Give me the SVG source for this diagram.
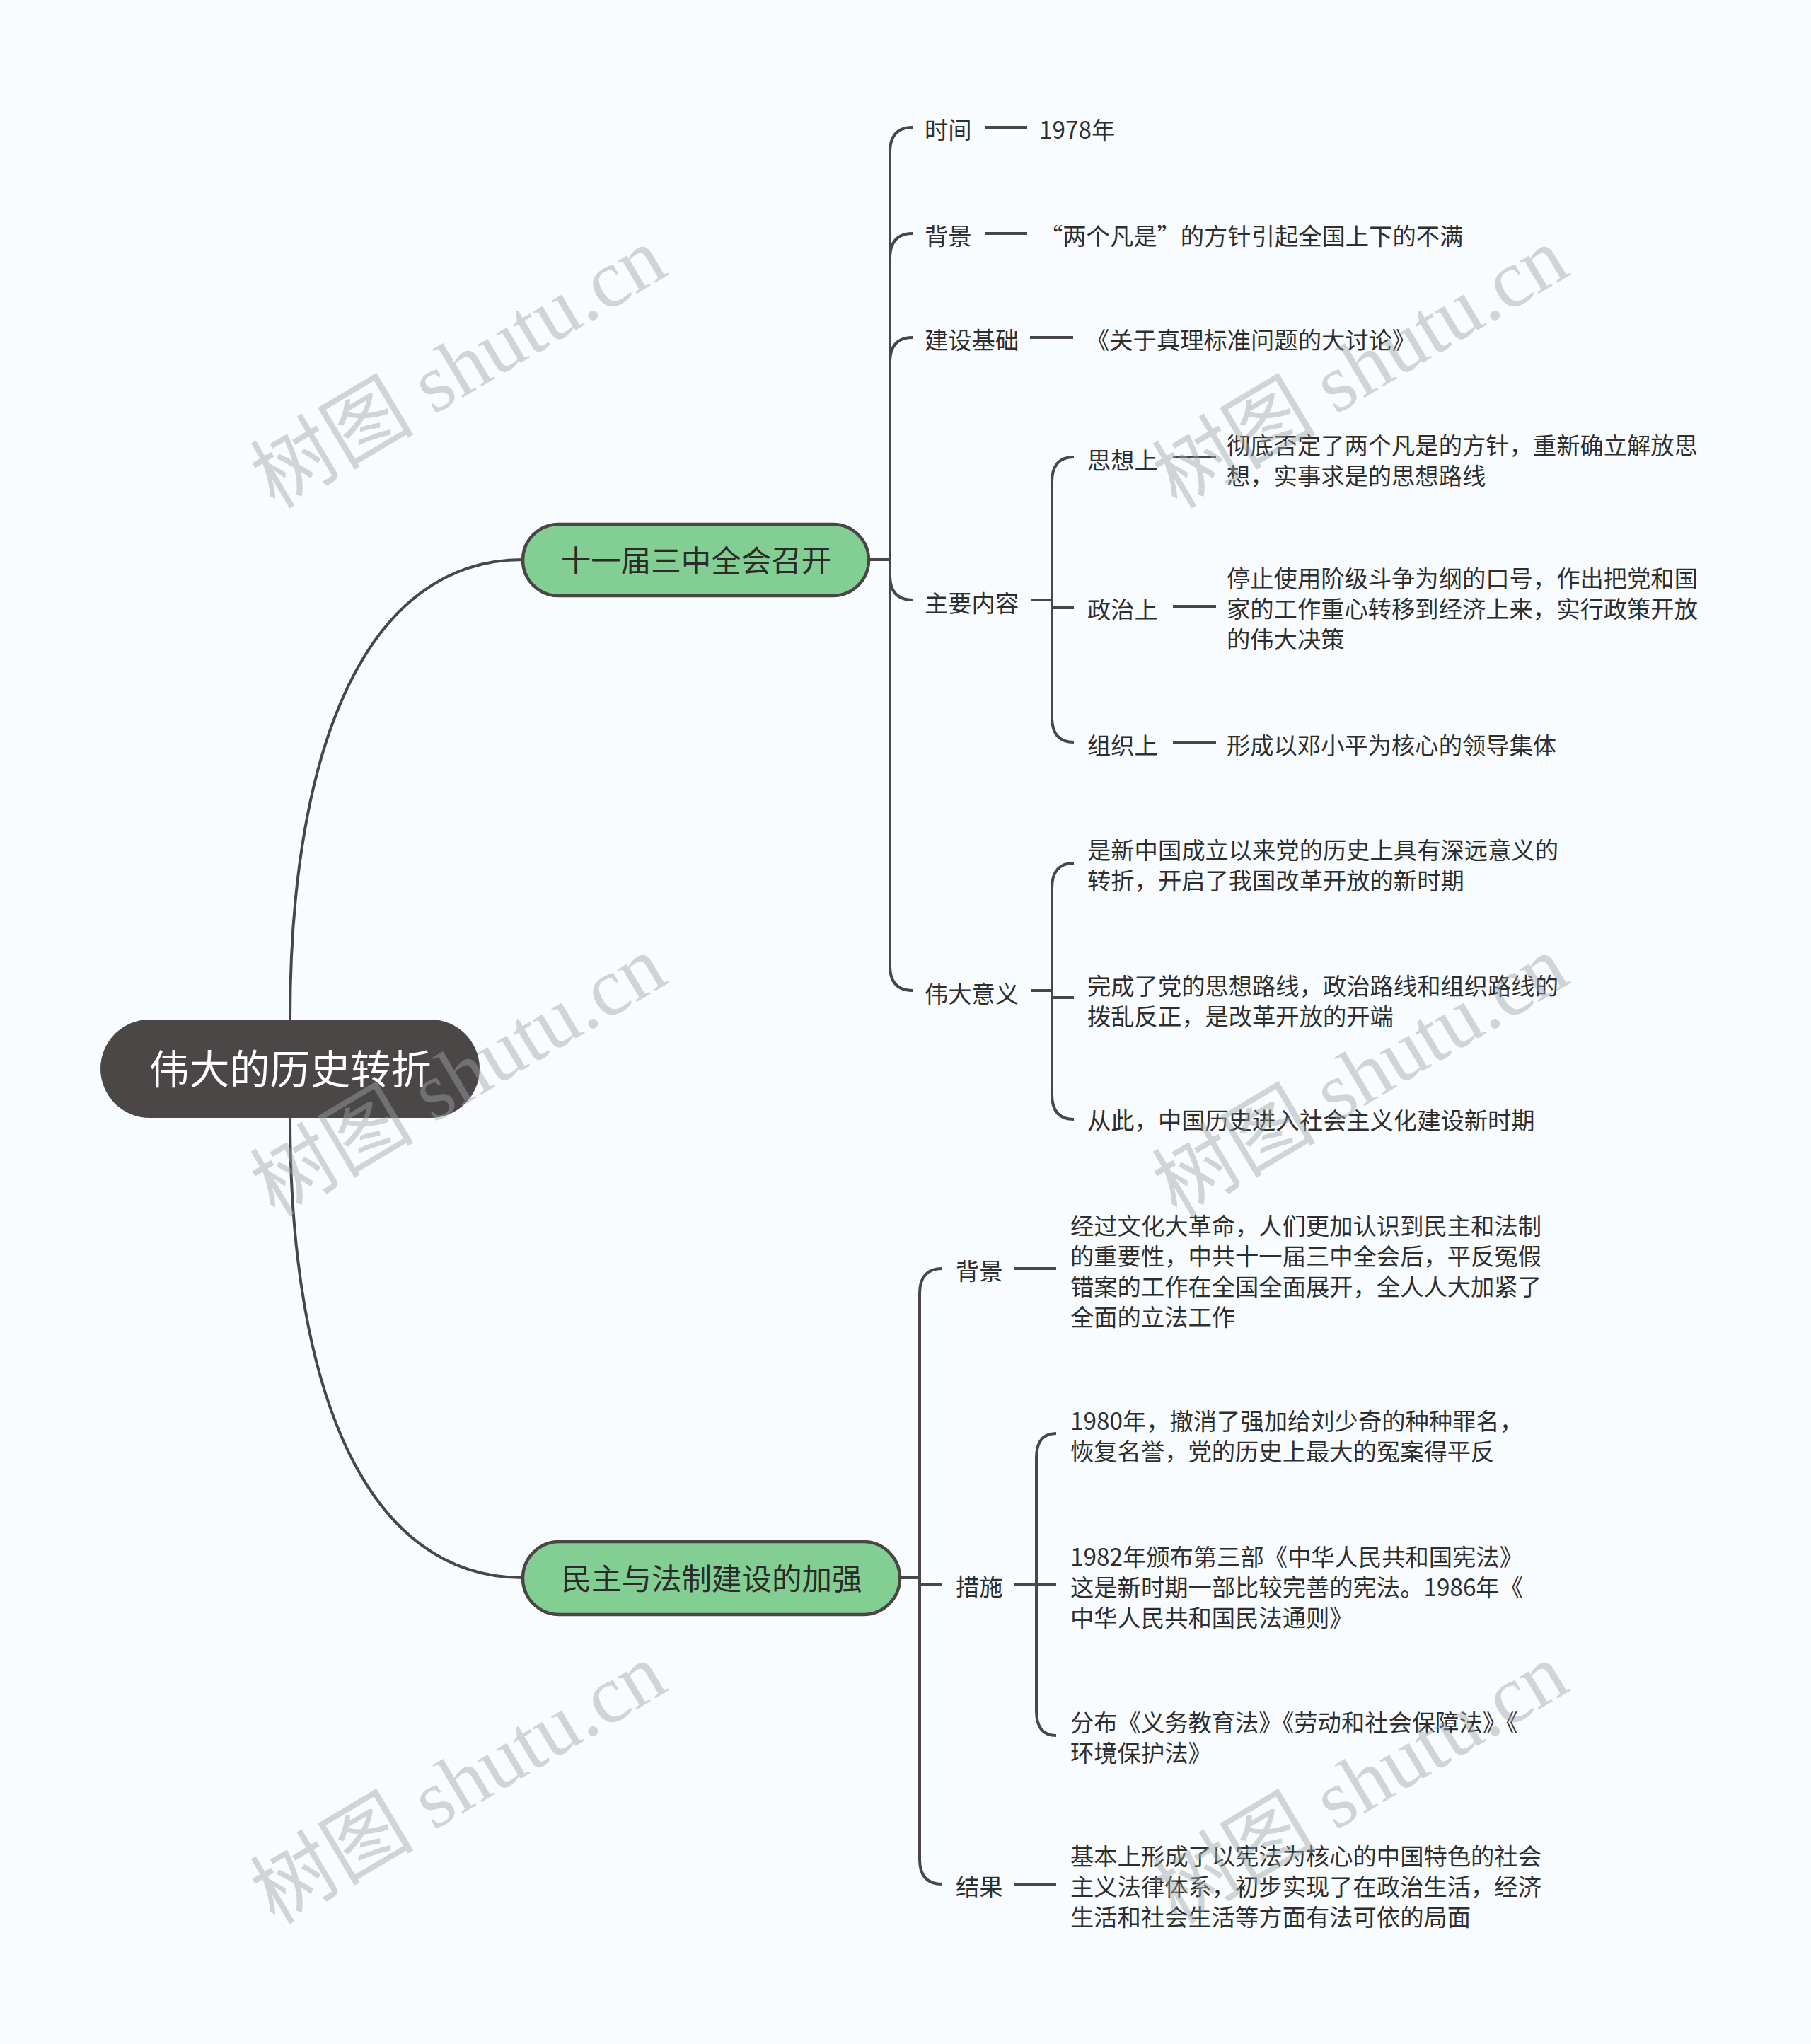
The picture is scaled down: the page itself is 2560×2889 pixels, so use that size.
<svg xmlns="http://www.w3.org/2000/svg" width="2560" height="2889" viewBox="0 0 2560 2889">
<style>
.t, .t tspan { font-family: "Noto Sans CJK SC", "Noto Sans", sans-serif; font-size: 33.3px; fill: #2e2e2e; dominant-baseline: central; }
.main { font-family: "Noto Sans CJK SC", "Noto Sans", sans-serif; font-size: 42.5px; fill: #2b2b2b; dominant-baseline: central; text-anchor: middle; }
.root { font-family: "Noto Sans CJK SC", "Noto Sans", sans-serif; font-size: 57px; fill: #ffffff; dominant-baseline: central; text-anchor: middle; }
.lk { stroke: #4a4646; stroke-width: 4; fill: none; }
.box { fill: #82ce93; stroke: #4a4646; stroke-width: 4.5; }
.wm { font-family: "Liberation Serif", "Noto Sans CJK SC", serif; font-size: 116px; fill: #9ea4a7; opacity: 0.45; text-anchor: middle; dominant-baseline: central; }
</style>
<rect x="0" y="0" width="2560" height="2889" fill="#f8fcfe"/>

<g id="connectors">
  <path class="lk" d="M 410 1441 C 410 1050, 520 791, 739 791"/>
  <path class="lk" d="M 410 1580 C 410 1971, 520 2230, 739 2230"/>
  <path class="lk" d="M 1228 791 L 1258 791"/>
  <path class="lk" d="M 1258 791 L 1258 215 Q 1258 180 1290 180"/>
  <path class="lk" d="M 1258 791 L 1258 365 Q 1258 330 1290 330"/>
  <path class="lk" d="M 1258 791 L 1258 512 Q 1258 477 1290 477"/>
  <path class="lk" d="M 1258 791 L 1258 813 Q 1258 848 1290 848"/>
  <path class="lk" d="M 1258 791 L 1258 1365 Q 1258 1400 1290 1400"/>
  <path class="lk" d="M 1392 180 L 1452 180"/>
  <path class="lk" d="M 1392 330 L 1452 330"/>
  <path class="lk" d="M 1456 477 L 1517 477"/>
  <path class="lk" d="M 1457 848 L 1487 848"/>
  <path class="lk" d="M 1487 848 L 1487 681 Q 1487 646 1518 646"/>
  <path class="lk" d="M 1487 848 L 1487 859 L 1518 859"/>
  <path class="lk" d="M 1487 848 L 1487 1014 Q 1487 1049 1518 1049"/>
  <path class="lk" d="M 1658 646 L 1719 646"/>
  <path class="lk" d="M 1658 857 L 1719 857"/>
  <path class="lk" d="M 1658 1049 L 1719 1049"/>
  <path class="lk" d="M 1457 1400 L 1487 1400"/>
  <path class="lk" d="M 1487 1400 L 1487 1255 Q 1487 1220 1518 1220"/>
  <path class="lk" d="M 1487 1400 L 1487 1410 L 1518 1410"/>
  <path class="lk" d="M 1487 1400 L 1487 1547 Q 1487 1582 1518 1582"/>
  <path class="lk" d="M 1272 2230 L 1300 2230"/>
  <path class="lk" d="M 1300 2230 L 1300 1828 Q 1300 1793 1332 1793"/>
  <path class="lk" d="M 1300 2230 L 1300 2239 L 1332 2239"/>
  <path class="lk" d="M 1300 2230 L 1300 2628 Q 1300 2663 1332 2663"/>
  <path class="lk" d="M 1433 1793 L 1493 1793"/>
  <path class="lk" d="M 1433 2239 L 1493 2239"/>
  <path class="lk" d="M 1433 2663 L 1493 2663"/>
  <path class="lk" d="M 1465 2239 L 1465 2061 Q 1465 2026 1493 2026"/>
  <path class="lk" d="M 1465 2239 L 1465 2418 Q 1465 2453 1493 2453"/>
</g>

<g id="root">
  <rect x="142" y="1441" width="536" height="139" rx="69.5" fill="#4b4747"/>
  <text class="root" x="410" y="1507">伟大的历史转折</text>
</g>

<g id="n-meeting">
  <rect class="box" x="739" y="741" width="489" height="101" rx="50.5"/>
  <text class="main" x="984" y="789">十一届三中全会召开</text>
</g>
<g id="n-law">
  <rect class="box" x="739" y="2179" width="533" height="103" rx="51.5"/>
  <text class="main" x="1006" y="2228">民主与法制建设的加强</text>
</g>

<g id="n-time"><text class="t" x="1307" y="181">时间</text></g>
<g id="n-time-v"><text class="t" x="1469" y="181">1978年</text></g>
<g id="n-bg1"><text class="t" x="1307" y="331">背景</text></g>
<g id="n-bg1-v"><text class="t" x="1469" y="331">“两个凡是”的方针引起全国上下的不满</text></g>
<g id="n-base"><text class="t" x="1307" y="478">建设基础</text></g>
<g id="n-base-v"><text class="t" x="1535" y="478">《关于真理标准问题的大讨论》</text></g>
<g id="n-content"><text class="t" x="1307" y="850">主要内容</text></g>
<g id="n-thought"><text class="t" x="1537" y="648">思想上</text></g>
<g id="n-thought-v"><text class="t"><tspan x="1734" y="627">彻底否定了两个凡是的方针，重新确立解放思</tspan><tspan x="1734" y="670">想，实事求是的思想路线</tspan></text></g>
<g id="n-politic"><text class="t" x="1537" y="859">政治上</text></g>
<g id="n-politic-v"><text class="t"><tspan x="1734" y="815">停止使用阶级斗争为纲的口号，作出把党和国</tspan><tspan x="1734" y="858">家的工作重心转移到经济上来，实行政策开放</tspan><tspan x="1734" y="901">的伟大决策</tspan></text></g>
<g id="n-org"><text class="t" x="1537" y="1051">组织上</text></g>
<g id="n-org-v"><text class="t" x="1734" y="1051">形成以邓小平为核心的领导集体</text></g>
<g id="n-meaning"><text class="t" x="1307" y="1402">伟大意义</text></g>
<g id="n-meaning-1"><text class="t"><tspan x="1537" y="1199">是新中国成立以来党的历史上具有深远意义的</tspan><tspan x="1537" y="1242">转折，开启了我国改革开放的新时期</tspan></text></g>
<g id="n-meaning-2"><text class="t"><tspan x="1537" y="1391">完成了党的思想路线，政治路线和组织路线的</tspan><tspan x="1537" y="1434">拨乱反正，是改革开放的开端</tspan></text></g>
<g id="n-meaning-3"><text class="t" x="1537" y="1581">从此，中国历史进入社会主义化建设新时期</text></g>

<g id="n-bg2"><text class="t" x="1351" y="1794">背景</text></g>
<g id="n-bg2-v"><text class="t"><tspan x="1513" y="1730">经过文化大革命，人们更加认识到民主和法制</tspan><tspan x="1513" y="1773">的重要性，中共十一届三中全会后，平反冤假</tspan><tspan x="1513" y="1816">错案的工作在全国全面展开，全人人大加紧了</tspan><tspan x="1513" y="1859">全面的立法工作</tspan></text></g>
<g id="n-measure"><text class="t" x="1351" y="2240">措施</text></g>
<g id="n-measure-1"><text class="t"><tspan x="1513" y="2006">1980年，撤消了强加给刘少奇的种种罪名，</tspan><tspan x="1513" y="2049">恢复名誉，党的历史上最大的冤案得平反</tspan></text></g>
<g id="n-measure-2"><text class="t"><tspan x="1513" y="2198">1982年颁布第三部《中华人民共和国宪法》</tspan><tspan x="1513" y="2241">这是新时期一部比较完善的宪法。1986年《</tspan><tspan x="1513" y="2284">中华人民共和国民法通则》</tspan></text></g>
<g id="n-measure-3"><text class="t"><tspan x="1513" y="2432">分布《义务教育法》《劳动和社会保障法》《</tspan><tspan x="1513" y="2475">环境保护法》</tspan></text></g>
<g id="n-result"><text class="t" x="1351" y="2664">结果</text></g>
<g id="n-result-v"><text class="t"><tspan x="1513" y="2621">基本上形成了以宪法为核心的中国特色的社会</tspan><tspan x="1513" y="2664">主义法律体系，初步实现了在政治生活，经济</tspan><tspan x="1513" y="2707">生活和社会生活等方面有法可依的局面</tspan></text></g>

<g id="watermarks">
  <text class="wm" x="648" y="520" transform="rotate(-30.8 648 520)">树图 shutu.cn</text>
  <text class="wm" x="1923" y="520" transform="rotate(-30.8 1923 520)">树图 shutu.cn</text>
  <text class="wm" x="648" y="1521" transform="rotate(-30.8 648 1521)">树图 shutu.cn</text>
  <text class="wm" x="1923" y="1521" transform="rotate(-30.8 1923 1521)">树图 shutu.cn</text>
  <text class="wm" x="648" y="2521" transform="rotate(-30.8 648 2521)">树图 shutu.cn</text>
  <text class="wm" x="1923" y="2521" transform="rotate(-30.8 1923 2521)">树图 shutu.cn</text>
</g>
</svg>
